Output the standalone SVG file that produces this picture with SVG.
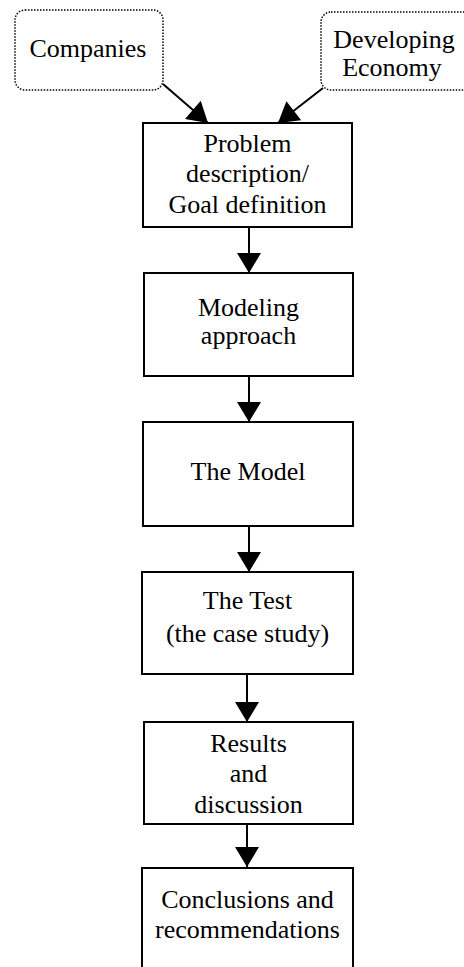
<svg xmlns="http://www.w3.org/2000/svg" width="464" height="967" viewBox="0 0 464 967">
<style>
text{font-family:'Liberation Serif','Times New Roman',serif;font-size:26px;fill:#000;text-anchor:middle}
.box{fill:#fff;stroke:#000;stroke-width:2}
.src{fill:#fff;stroke:#000;stroke-width:1.5;stroke-dasharray:1.5 1.5}
.con{stroke:#000;stroke-width:2;fill:none;marker-end:url(#ah)}
</style>
<defs>
<marker id="ah" markerUnits="userSpaceOnUse" markerWidth="24" markerHeight="24" viewBox="0 0 20 24" refX="20" refY="12" orient="auto">
<path d="M0,0 L20,12 L0,24 Z" fill="#000"/>
</marker>
</defs>
<rect width="464" height="967" fill="#fff"/>
<g id="connectors">
<line class="con" x1="163" y1="84" x2="208" y2="123"/>
<line class="con" x1="323" y1="88" x2="278" y2="123"/>
<line class="con" x1="249" y1="227" x2="249" y2="273"/>
<line class="con" x1="249" y1="376" x2="249" y2="422"/>
<line class="con" x1="249" y1="526" x2="249" y2="572"/>
<line class="con" x1="247" y1="674" x2="247" y2="722"/>
<line class="con" x1="247" y1="824" x2="247" y2="867"/>
</g>
<g id="companies">
<rect class="src" x="15" y="10" width="148" height="80" rx="10"/>
<text x="88" y="57">Companies</text>
</g>
<g id="developing-economy">
<rect class="src" x="321" y="12" width="160" height="78" rx="10"/>
<text x="394" y="48">Developing</text>
<text x="392" y="76">Economy</text>
</g>
<g id="problem">
<rect class="box" x="143" y="123" width="209" height="104"/>
<text x="247.5" y="152">Problem</text>
<text x="247.5" y="182">description/</text>
<text x="247.5" y="213">Goal definition</text>
</g>
<g id="modeling">
<rect class="box" x="144" y="273" width="209" height="103"/>
<text x="248.5" y="316">Modeling</text>
<text x="248.5" y="344">approach</text>
</g>
<g id="model">
<rect class="box" x="143" y="422" width="210" height="104"/>
<text x="248" y="480">The Model</text>
</g>
<g id="test">
<rect class="box" x="142" y="572" width="211" height="102"/>
<text x="247.5" y="609">The Test</text>
<text x="247.5" y="642">(the case study)</text>
</g>
<g id="results">
<rect class="box" x="144" y="722" width="209" height="102"/>
<text x="248.5" y="752">Results</text>
<text x="248.5" y="782">and</text>
<text x="248.5" y="813">discussion</text>
</g>
<g id="conclusions">
<rect class="box" x="142" y="868" width="211" height="110"/>
<text x="247.5" y="908">Conclusions and</text>
<text x="247.5" y="938">recommendations</text>
</g>
</svg>
